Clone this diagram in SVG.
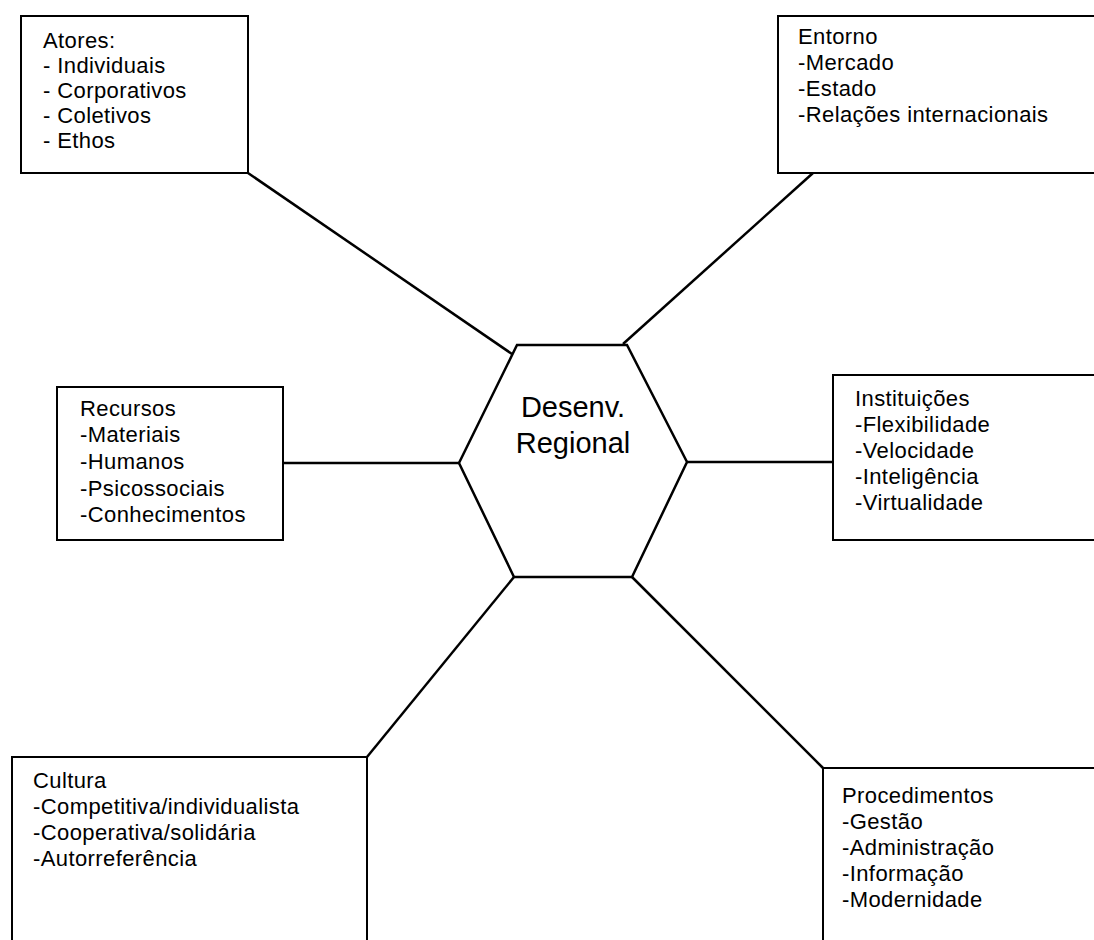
<svg xmlns="http://www.w3.org/2000/svg" width="1094" height="940" viewBox="0 0 1094 940">
<style>
.box{fill:#fff;stroke:#000;stroke-width:2}
.t{font-family:"Liberation Sans",Arial,sans-serif;font-size:22px;letter-spacing:0.4px;fill:#000}
.c{font-family:"Liberation Sans",Arial,sans-serif;font-size:29px;fill:#000;text-anchor:middle}
.ln{stroke:#000;stroke-width:2.5;fill:none}
</style>
<rect width="1094" height="940" fill="#fff"/>
<g id="connectors">
<line class="ln" x1="248" y1="173" x2="512" y2="354"/>
<line class="ln" x1="813" y1="173" x2="623" y2="344"/>
<line class="ln" x1="283" y1="463" x2="459" y2="463"/>
<line class="ln" x1="687" y1="462" x2="833" y2="462"/>
<line class="ln" x1="367" y1="757" x2="514" y2="577"/>
<line class="ln" x1="632" y1="577" x2="823" y2="768"/>
</g>
<g id="center">
<polygon points="517,345 627,345 687,462 632,577 514,577 459,463" fill="#fff" stroke="#000" stroke-width="2.5"/>
<text class="c" x="573" y="417">Desenv.</text>
<text class="c" x="573" y="453">Regional</text>
</g>
<g id="atores">
<rect class="box" x="21" y="16" width="227" height="157"/>
<text class="t" x="43" y="48">Atores:</text>
<text class="t" x="43" y="73">- Individuais</text>
<text class="t" x="43" y="98">- Corporativos</text>
<text class="t" x="43" y="123">- Coletivos</text>
<text class="t" x="43" y="148">- Ethos</text>
</g>
<g id="entorno">
<rect class="box" x="778" y="16" width="330" height="157"/>
<text class="t" x="798" y="44">Entorno</text>
<text class="t" x="798" y="70">-Mercado</text>
<text class="t" x="798" y="96">-Estado</text>
<text class="t" x="798" y="122">-Relações internacionais</text>
</g>
<g id="recursos">
<rect class="box" x="57" y="387" width="226" height="153"/>
<text class="t" x="80" y="416">Recursos</text>
<text class="t" x="80" y="442">-Materiais</text>
<text class="t" x="80" y="469">-Humanos</text>
<text class="t" x="80" y="496">-Psicossociais</text>
<text class="t" x="80" y="522">-Conhecimentos</text>
</g>
<g id="instituicoes">
<rect class="box" x="833" y="375" width="275" height="165"/>
<text class="t" x="855" y="406">Instituições</text>
<text class="t" x="855" y="432">-Flexibilidade</text>
<text class="t" x="855" y="458">-Velocidade</text>
<text class="t" x="855" y="484">-Inteligência</text>
<text class="t" x="855" y="510">-Virtualidade</text>
</g>
<g id="cultura">
<rect class="box" x="12" y="757" width="355" height="200"/>
<text class="t" x="33" y="788">Cultura</text>
<text class="t" x="33" y="814">-Competitiva/individualista</text>
<text class="t" x="33" y="840">-Cooperativa/solidária</text>
<text class="t" x="33" y="866">-Autorreferência</text>
</g>
<g id="procedimentos">
<rect class="box" x="823" y="768" width="285" height="200"/>
<text class="t" x="842" y="803">Procedimentos</text>
<text class="t" x="842" y="829">-Gestão</text>
<text class="t" x="842" y="855">-Administração</text>
<text class="t" x="842" y="881">-Informação</text>
<text class="t" x="842" y="907">-Modernidade</text>
</g>
</svg>
